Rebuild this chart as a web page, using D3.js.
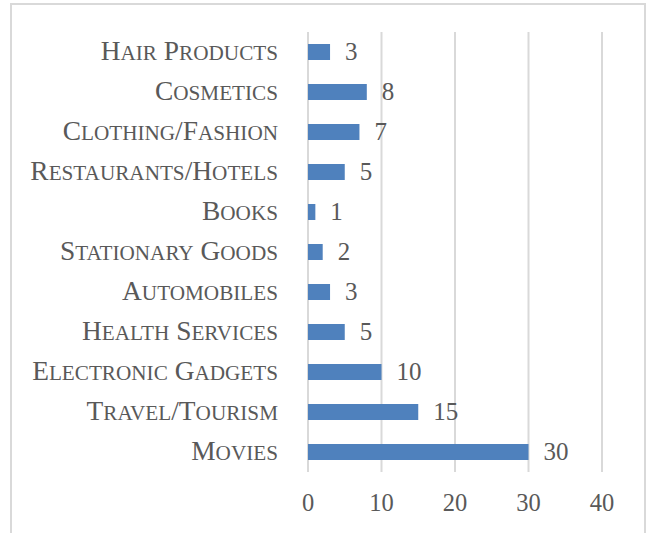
<!DOCTYPE html>
<html>
<head>
<meta charset="utf-8">
<script src="https://d3js.org/d3.v7.min.js"></script>
<style>
	body { margin: 0; background: #fff; }
</style>
</head>
<body>
<div id="container"></div>
<script>

// Categories, top to bottom, and their counts
var categories = ["Hair Products", "Cosmetics", "Clothing/Fashion", "Restaurants/Hotels", "Books",
	"Stationary Goods", "Automobiles", "Health Services", "Electronic Gadgets", "Travel/Tourism", "Movies"];
var counts = [3, 8, 7, 5, 1, 2, 3, 5, 10, 15, 30];
var tickValues = [0, 10, 20, 30, 40];

var width = 647, height = 533;
var serif = "'Liberation Serif', 'Times New Roman', 'DejaVu Serif', serif";
var textColor = "#595959";

var svg = d3.select("#container")
	.append("svg")
	.attr("width", width)
	.attr("height", height);

// chart border (no bottom edge visible)
svg.append("path")
	.attr("d", "M11,540 V4 H645 V540")
	.attr("fill", "none")
	.attr("stroke", "#d9d9d9")
	.attr("stroke-width", 2);

var x = d3.scaleLinear().domain([0, 40]).range([308, 602]);
var y = d3.scaleBand().domain(categories).range([32, 472]).paddingInner(0.6).paddingOuter(0.3);

// vertical gridlines
svg.append("g")
	.selectAll("line")
	.data(tickValues)
	.enter().append("line")
	.attr("x1", function(d) { return x(d); })
	.attr("x2", function(d) { return x(d); })
	.attr("y1", 32)
	.attr("y2", 472)
	.attr("stroke", "#d9d9d9")
	.attr("stroke-width", 2);

// x axis tick labels
svg.append("g")
	.selectAll("text")
	.data(tickValues)
	.enter().append("text")
	.attr("x", function(d) { return x(d); })
	.attr("y", 511)
	.attr("text-anchor", "middle")
	.attr("font-family", serif)
	.attr("font-size", 24.5)
	.attr("fill", textColor)
	.text(function(d) { return d; });

var data = categories.map(function(c, i) { return { name: c, value: counts[i] }; });

// bars
svg.append("g")
	.selectAll("rect")
	.data(data)
	.enter().append("rect")
	.attr("x", x(0))
	.attr("y", function(d) { return y(d.name); })
	.attr("width", function(d) { return x(d.value) - x(0); })
	.attr("height", y.bandwidth())
	.attr("fill", "#4f81bd");

// category labels, small caps built by hand (caps full size, rest smaller)
var labels = svg.append("g")
	.selectAll("text")
	.data(data)
	.enter().append("text")
	.attr("x", 278)
	.attr("y", function(d) { return y(d.name) + y.bandwidth() / 2 + 8; })
	.attr("text-anchor", "end")
	.attr("font-family", serif)
	.attr("fill", textColor);

labels.each(function(d) {
	var t = d3.select(this);
	var parts = d.name.match(/[a-z]+|[^a-z]+/g);
	parts.forEach(function(p) {
		var small = /[a-z]/.test(p);
		t.append("tspan")
			.attr("font-size", small ? 21.2 : 27.4)
			.text(p.toUpperCase());
	});
});

// value labels
svg.append("g")
	.selectAll("text")
	.data(data)
	.enter().append("text")
	.attr("x", function(d) { return x(d.value) + 15; })
	.attr("y", function(d) { return y(d.name) + y.bandwidth() / 2 + 8; })
	.attr("font-family", serif)
	.attr("font-size", 25)
	.attr("fill", textColor)
	.text(function(d) { return d.value; });

</script>
</body>
</html>
